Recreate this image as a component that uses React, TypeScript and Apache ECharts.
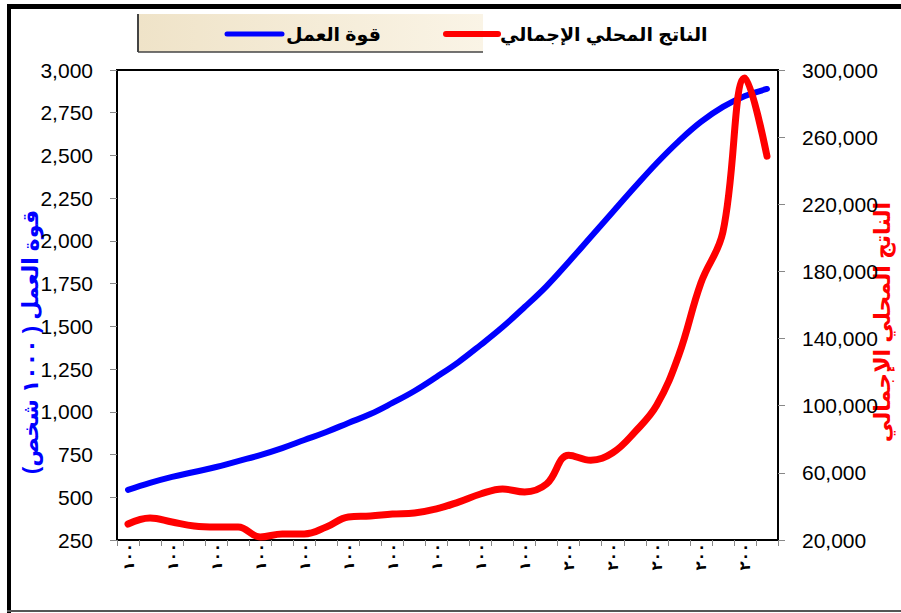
import React, { useEffect, useRef } from "react";
import * as echarts from "echarts";

const xTickLabels = [
  "١٠٠", "١٠٠", "١٠٠", "١٠٠", "١٠٠", "١٠٠", "١٠٠", "١٠٠", "١٠٠", "١٠٠",
  "٢٠٠", "٢٠٠", "٢٠٠", "٢٠٠", "٢٠٠",
];
const categories = Array.from({ length: 30 }, (_, i) => String(i));

const laborForce = [
  543, 584, 619, 648, 677, 712, 747, 788, 835, 882,
  935, 987, 1052, 1122, 1204, 1291, 1391, 1496, 1613, 1736,
  1877, 2023, 2169, 2315, 2456, 2584, 2696, 2784, 2848, 2889,
];
const gdp = [
  29500, 33100, 30700, 28300, 27700, 27700, 21800, 23600, 23600, 27700,
  33700, 34300, 35500, 36100, 38500, 42600, 47400, 50400, 48600, 53400,
  70500, 67500, 72000, 84300, 100400, 130200, 173100, 203500, 295200, 248700,
];

const laborName = "قوة العمل";
const gdpName = "الناتج المحلي الإجمالي";
const leftAxisName = "قوة العمل ( ١٠٠٠ شخص)";
const rightAxisName = "الناتج المحلي الإجمالي";

const fmt = (v: number) => v.toLocaleString("en-US");

export default function App() {
  const ref = useRef<HTMLDivElement>(null);
  useEffect(() => {
    document.body.style.margin = "0";
    const chart = echarts.init(ref.current!, null, { renderer: "svg" });
    const font = "Arial, 'Liberation Sans', 'DejaVu Sans', sans-serif";
    chart.setOption({
      animation: false,
      backgroundColor: "#ffffff",
      textStyle: { fontFamily: font },
      grid: {
        left: 117,
        top: 70,
        width: 661,
        height: 470,
        show: true,
        borderColor: "#000",
        borderWidth: 2,
        backgroundColor: "transparent",
      },
      xAxis: {
        type: "category",
        data: categories,
        boundaryGap: true,
        axisLine: { show: true, lineStyle: { color: "#000", width: 2 } },
        axisTick: { show: true, interval: 0, length: 6, lineStyle: { color: "#888" } },
        axisLabel: {
          interval: 1,
          rotate: 90,
          fontSize: 15,
          fontWeight: "bold",
          color: "#000",
          margin: 3,
          formatter: (_v: string, idx: number) => xTickLabels[Math.floor(idx / 2)] ?? "",
        },
        splitLine: { show: false },
      },
      yAxis: [
        {
          type: "value",
          min: 250,
          max: 3000,
          interval: 250,
          position: "left",
          axisLine: { show: true, lineStyle: { color: "#000", width: 2 } },
          axisTick: { show: true, length: 7, lineStyle: { color: "#888" } },
          axisLabel: { fontSize: 21, color: "#000", margin: 24, formatter: fmt },
          splitLine: { show: false },
        },
        {
          type: "value",
          min: 20000,
          max: 300000,
          interval: 40000,
          position: "right",
          axisLine: { show: true, lineStyle: { color: "#000", width: 2 } },
          axisTick: { show: true, length: 7, lineStyle: { color: "#888" } },
          axisLabel: { fontSize: 21, color: "#000", margin: 24, formatter: fmt },
          splitLine: { show: false },
        },
      ],
      series: [
        {
          name: laborName,
          type: "line",
          data: laborForce,
          yAxisIndex: 0,
          smooth: 0.4,
          symbol: "none",
          lineStyle: { color: "#0000ff", width: 6, cap: "round" },
          z: 3,
        },
        {
          name: gdpName,
          type: "line",
          data: gdp,
          yAxisIndex: 1,
          smooth: 0.4,
          symbol: "none",
          lineStyle: { color: "#ff0000", width: 7, cap: "round" },
          z: 4,
        },
      ],
      graphic: [
        { type: "rect", shape: { x: 7, y: 4, width: 894, height: 5 }, style: { fill: "#000" }, silent: true },
        { type: "rect", shape: { x: 7, y: 4, width: 4, height: 609 }, style: { fill: "#000" }, silent: true },
        { type: "rect", shape: { x: 7, y: 610, width: 894, height: 2 }, style: { fill: "#555" }, silent: true },
        {
          type: "rect",
          shape: { x: 138, y: 14, width: 345, height: 38 },
          style: {
            fill: new echarts.graphic.LinearGradient(0, 0, 1, 0, [
              { offset: 0, color: "#efe3c8" },
              { offset: 1, color: "#faf4e6" },
            ]),
          },
          silent: true,
        },
        { type: "line", shape: { x1: 138, y1: 14, x2: 138, y2: 52 }, style: { stroke: "#444", lineWidth: 2 }, silent: true },
        { type: "line", shape: { x1: 138, y1: 52, x2: 483, y2: 52 }, style: { stroke: "#444", lineWidth: 1.5 }, silent: true },
        { type: "line", shape: { x1: 227, y1: 34, x2: 282, y2: 34 }, style: { stroke: "#0000ff", lineWidth: 5, lineCap: "round" }, silent: true },
        {
          type: "text",
          x: 286,
          y: 34,
          style: { text: laborName, fill: "#000", font: `bold 19px ${font}`, textAlign: "left", textVerticalAlign: "middle" },
          silent: true,
        },
        { type: "line", shape: { x1: 446, y1: 34, x2: 498, y2: 34 }, style: { stroke: "#ff0000", lineWidth: 6, lineCap: "round" }, silent: true },
        {
          type: "text",
          x: 500,
          y: 34,
          style: { text: gdpName, fill: "#000", font: `bold 19px ${font}`, textAlign: "left", textVerticalAlign: "middle" },
          silent: true,
        },
        {
          type: "text",
          x: 30,
          y: 342,
          rotation: Math.PI / 2,
          style: { text: leftAxisName, fill: "#0000ff", font: `bold 22px ${font}`, textAlign: "center", textVerticalAlign: "middle" },
          silent: true,
        },
        {
          type: "text",
          x: 882,
          y: 322,
          rotation: Math.PI / 2,
          style: { text: rightAxisName, fill: "#ff0000", font: `bold 22px ${font}`, textAlign: "center", textVerticalAlign: "middle" },
          silent: true,
        },
      ],
    });
    return () => chart.dispose();
  }, []);
  return <div ref={ref} style={{ width: 901, height: 613 }} />;
}
